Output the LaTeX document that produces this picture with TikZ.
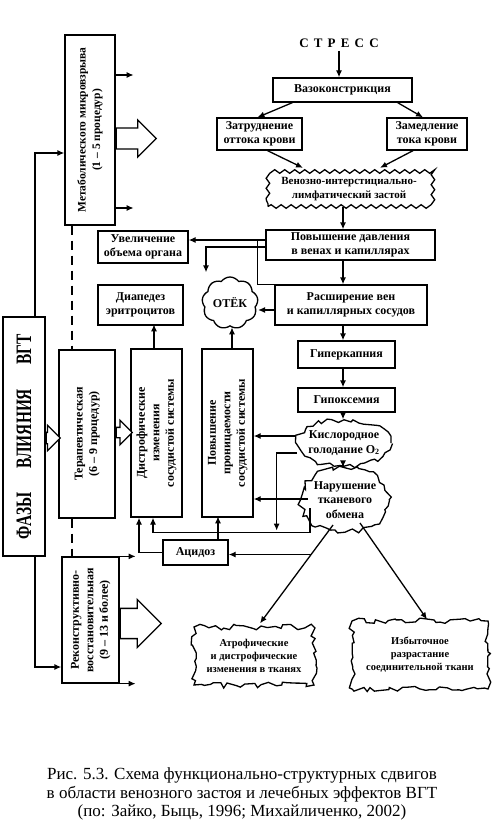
\documentclass[tikz,border=0pt]{standalone}
\usepackage{fontspec}
\setmainfont{Liberation Serif}
\usepackage{graphicx}
\usetikzlibrary{arrows.meta}
\usetikzlibrary{positioning,calc}
\usetikzlibrary{shapes.geometric,shapes.arrows,shapes.symbols}
\usetikzlibrary{decorations.pathmorphing}
\newcommand{\vlabel}[1]{\rotatebox{90}{\begin{tabular}{@{}c@{}}#1\end{tabular}}}
\newcommand{\narrow}[1]{\scalebox{0.7}[1]{#1}}
\tikzset{
    box/.style={
        draw,
        line width=1.3pt,
        fill=white,
        align=center,
        inner sep=1pt,
        font=\fontsize{12}{14.5}\selectfont\bfseries
    },
    wavy/.style={
        box,
        decorate,
        decoration={snake, segment length=10pt, amplitude=1.8pt}
    },
    spiky/.style={
        box,
        decorate,
        decoration={random steps, segment length=5pt, amplitude=3pt}
    },
    arr/.style={
        line width=1.3pt,
        -{Latex[length=7pt, width=6pt]}
    },
    link/.style={line width=1.3pt},
    fatarrow/.style={
        draw,
        single arrow,
        fill=white,
        line width=1.3pt,
        anchor=tail,
        inner xsep=0pt
    }
}

\begin{document}
\begin{tikzpicture}[x=1pt, y=-1pt]
  \useasboundingbox (0,0) rectangle (500,824);
  \pgfmathsetseed{11}
  \coordinate (axis) at (343,0);

  % Main chain
  \node[font=\fontsize{13}{15}\selectfont\bfseries] (stress) at (339,43) {\addfontfeature{LetterSpace=40}СТРЕСС};
  \node[box, minimum width=139pt, minimum height=24pt] (vaso) at (342.5,90) {Вазоконстрикция};
  \node[box, minimum width=85pt, minimum height=32pt] (zatr) at (259.5,134) {Затруднение\\оттока крови};
  \node[box, minimum width=80pt, minimum height=32pt] (zamed) at (427,134) {Замедление\\тока крови};
  \node[wavy, minimum width=162pt, minimum height=35pt, font=\fontsize{11}{14}\selectfont\bfseries] (zastoy) at (349,189) {Венозно-интерстициально-\\лимфатический застой};
  \node[box, minimum width=169pt, minimum height=30pt] (povdav) at (350.5,245) {Повышение давления\\в венах и капиллярах};
  \node[box, minimum width=152pt, minimum height=40pt] (rassh) at (351,305) {Расширение вен\\и капиллярных сосудов};
  \node[box, minimum width=97pt, minimum height=27pt] (giperk) at (346.5,354.5) {Гиперкапния};
  \node[box, minimum width=97pt, minimum height=24pt] (gipox) at (346.5,400) {Гипоксемия};
  \node[spiky, ellipse, inner xsep=-8pt, inner ysep=-3pt, minimum width=94pt, minimum height=46pt] (kislor) at (344,443) {Кислородное\\голодание O\textsubscript{2}};
  \node[spiky, ellipse, inner xsep=-8pt, inner ysep=-3pt, minimum width=88pt, minimum height=64pt] (narush) at (345,500) {Нарушение\\тканевого\\обмена};

  % Left side effects
  \node[box, minimum width=90pt, minimum height=32pt] (uvel) at (143,247) {Увеличение\\объема органа};
  \node[box, cloud, cloud puffs=9, cloud puff arc=110, cloud ignores aspect, minimum width=56pt, minimum height=52pt] (otek) at (230,303) {ОТЁК};
  \node[box, minimum width=85pt, minimum height=40pt] (diap) at (140.5,305) {Диапедез\\эритроцитов};
  \node[box, minimum width=51pt, minimum height=168pt] (distr) at (156.5,433) {\vlabel{Дистрофические\\изменения\\сосудистой системы}};
  \node[box, minimum width=51pt, minimum height=168pt] (pronic) at (227.5,433) {\vlabel{Повышение\\проницаемости\\сосудистой системы}};
  \node[box, minimum width=65pt, minimum height=25pt] (acidoz) at (195.5,552.5) {Ацидоз};

  % Outcomes
  \node[spiky, minimum width=120pt, minimum height=58pt, font=\fontsize{10.5}{13}\selectfont\bfseries] (atrof) at (254,656) {Атрофические\\и дистрофические\\изменения в тканях};
  \node[spiky, minimum width=136pt, minimum height=68pt, font=\fontsize{10.5}{13}\selectfont\bfseries] (izbyt) at (420,655) {Избыточное\\разрастание\\соединительной ткани};

  % Phases
  \node[box, minimum width=42pt, minimum height=239pt] (fazy) at (24,436.5) {\rotatebox{90}{\makebox[205pt]{\fontsize{22}{24}\selectfont\bfseries\narrow{ФАЗЫ}\hfill\narrow{ВЛИЯНИЯ}\hfill\narrow{ВГТ}}}};
  \node[box, minimum width=50pt, minimum height=190pt, font=\fontsize{11.5}{14.5}\selectfont\bfseries] (metab) at (90,130) {\vlabel{Метаболического микровзрыва\\(1 -- 5 процедур)}};
  \node[box, minimum width=56pt, minimum height=168pt] (terap) at (87,434) {\vlabel{Терапевтическая\\(6 -- 9 процедур)}};
  \node[box, minimum width=57pt, minimum height=126pt] (rekon) at (90.5,620) {\vlabel{Реконструктивно-\\восстановительная\\(9 -- 13 и более)}};

  % Caption
  \node[font=\fontsize{17}{18.5}\selectfont, align=center] (caption) at (242,794) {Рис. 5.3. Схема функционально-структурных сдвигов\\в области венозного застоя и лечебных эффектов ВГТ\\(по: Зайко, Быць, 1996; Михайличенко, 2002)};

  % Main chain arrows
  \draw[arr] (stress) -- (stress |- vaso.north);
  \draw[arr] ([xshift=20pt]vaso.south west) -- ([xshift=-2pt]zatr.north);
  \draw[arr] ([xshift=-15pt]vaso.south east) -- ([xshift=-4pt]zamed.north);
  \draw[arr] ([xshift=8pt]zatr.south) -- ([xshift=-46pt,yshift=3pt]zastoy.north);
  \draw[arr] ([xshift=-14pt]zamed.south) -- ([xshift=31pt,yshift=3pt]zastoy.north);
  \draw[arr] (zastoy.south -| axis) -- (povdav.north -| axis);
  \draw[arr] (povdav.south -| axis) -- (rassh.north -| axis);
  \draw[arr] (rassh.south -| axis) -- (giperk.north -| axis);
  \draw[arr] (giperk.south -| axis) -- (gipox.north -| axis);
  \draw[arr] (gipox.south -| axis) -- (kislor.north -| axis);
  \draw[arr] (kislor.south -| axis) -- (narush.north -| axis);

  % Side arrows
  \draw[arr] ($(povdav.west)+(0,-5)$) -- ($(povdav.west -| uvel.east)+(0,-5)$);
  \draw[link] (rassh.north west) -- ++(-17,0) -- ++(0,-45);
  \draw[arr] ($(povdav.west)+(0,2)$) -| ($(otek.north)+(-24,-4)$);
  \draw[arr] ($(rassh.west)+(0,5)$) -- ($(rassh.west -| otek.east)+(0,5)$);
  \draw[arr] ([xshift=-2.5pt]distr.north) -- ++(0,-24);
  \draw[arr] ([xshift=4.5pt]pronic.north) -- ++(0,-21);
  \draw[arr] ($(kislor)+(-48,-7)$) -- ($(pronic.east)+(0,3)$);
  \draw[arr] ($(kislor)+(-47,10)$) -| ($(pronic.south east)+(23,13)$);
  \draw[arr] ($(narush)+(-37,-1)$) -- ($(pronic.east)+(0,66)$);
  \draw[arr] ($(narush)+(-35,8)$) |- ($(distr.south)+(-3.5,15)$) -- ([xshift=-3.5pt]distr.south);
  \draw[arr] (acidoz.west) -| ($(distr.south)+(-17.5,0)$);
  \draw[arr] ([xshift=22.5pt]acidoz.north) -- ++(0,-23);

  % Outcome arrows
  \coordinate (nb) at ($(narush)+(-12,25)$);
  \coordinate (ab) at ($(atrof.north)+(6,-3)$);
  \path (nb) -- (ab) coordinate[pos=0.3] (fork);
  \draw[arr] (nb) -- (ab);
  \draw[arr] ($(narush)+(15,23)$) -- ($(izbyt.north)+(7,-1)$);
  \draw[arr] (fork) -- (fork -| acidoz.east);

  % Phase connections
  \draw[arr] ([xshift=11pt]fazy.north) |- ($(metab.west)+(0,23)$);
  \draw[arr] ([xshift=11pt]fazy.south) |- ($(rekon.west)+(0,47)$);
  \draw[arr] ($(metab.east)+(0,-55)$) -- ++(18,0);
  \draw[arr] ($(metab.east)+(0,78)$) -- ++(18,0);
  \draw[arr] (rekon.north east) -- ++(16,0);
  \draw[arr] (rekon.south east) -- ++(16,0);
  \draw[link, line width=1.8pt, dash pattern=on 9pt off 6pt] ($(metab.south)+(-18,0)$) -- ($(terap.north)+(-15,0)$);
  \draw[link, line width=1.8pt, dash pattern=on 9pt off 6pt] ($(terap.south)+(-15,0)$) -- ($(rekon.north)+(-18.5,0)$);

  % Hollow arrows
  \node[fatarrow, minimum height=40pt, minimum width=37pt, inner ysep=8.5pt] (metabfat) at ($(metab.east)+(0,8.5)$) {};
  \node[fatarrow, minimum height=41pt, minimum width=48pt, inner ysep=11.5pt] (rekonfat) at ($(rekon.east)+(0,3.5)$) {};
  \node[fatarrow, minimum height=14pt, minimum width=20pt, inner ysep=5pt] (fazyfat) at ($(fazy.east)+(0,1.5)$) {};
  \node[fatarrow, minimum height=16pt, minimum width=20pt, inner ysep=4.5pt] (terapfat) at ($(terap.east)+(0,-1.5)$) {};
\end{tikzpicture}
\end{document}
